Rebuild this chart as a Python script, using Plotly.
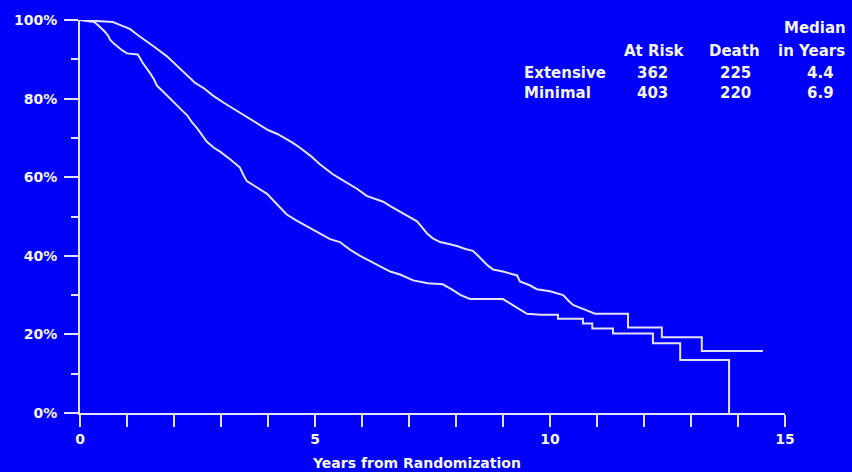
import plotly.graph_objects as go

# ---- data (Kaplan-Meier style curves, % surviving) ----
minimal_years = [0, 0.7, 0.9, 1.06, 1.25, 1.43, 1.6, 1.85, 2.05, 2.28, 2.45, 2.65, 2.83, 3.05,
                 3.26, 3.45, 3.65, 3.83, 4.0, 4.2, 4.35, 4.53, 4.68, 4.9, 5.11, 5.25, 5.38, 5.55,
                 5.74, 5.9, 6.1, 6.3, 6.45, 6.62, 6.81, 7.0, 7.17, 7.28, 7.38, 7.5, 7.66, 7.85,
                 8.02, 8.2, 8.36, 8.47, 8.57, 8.68, 8.79, 9.0, 9.3, 9.36, 9.57, 9.72, 10.0, 10.28,
                 10.4, 10.49, 10.7, 10.96,
                 11.66, 11.66, 12.38, 12.38, 13.23, 13.23, 14.53]
minimal_surv = [100, 99.5, 98.5, 97.75, 96, 94.5, 93, 90.75, 88.5, 85.75, 84, 82.5, 80.75, 79,
                77.5, 76, 74.5, 73.25, 72, 71, 70, 68.75, 67.5, 65.5, 63.25, 62, 60.75, 59.5,
                58.25, 57, 55.25, 54.5, 53.75, 52.5, 51.25, 50, 48.75, 47.25, 45.75, 44.5, 43.5, 43,
                42.5, 41.75, 41.25, 40, 38.75, 37.5, 36.5, 36, 35, 33.5, 32.5, 31.5, 31, 30,
                28.5, 27.5, 26.5, 25.25,
                25.25, 21.75, 21.75, 19.25, 19.25, 15.75, 15.75]

extensive_years = [0, 0.3, 0.38, 0.45, 0.53, 0.6, 0.64, 0.72, 0.79, 0.9, 1.0, 1.23, 1.34, 1.42,
                   1.49, 1.57, 1.64, 1.75, 1.85, 1.95, 2.06, 2.17, 2.28, 2.38, 2.49, 2.6, 2.7,
                   2.85, 2.98, 3.2, 3.4, 3.48, 3.55, 3.75, 3.98, 4.2, 4.4, 4.6, 4.83, 5.11, 5.32,
                   5.53, 5.75, 5.96, 6.2, 6.45, 6.6, 6.81, 7.09, 7.4, 7.72, 7.9, 8.1, 8.3, 9.0,
                   9.2, 9.35, 9.51, 9.8,
                   10.17, 10.17, 10.7, 10.7, 10.9, 10.9, 11.34, 11.34, 12.19, 12.19,
                   12.77, 12.77, 13.81, 13.81]
extensive_surv = [100, 99.5, 98.75, 98, 97, 96, 95, 94, 93.25, 92.25, 91.5, 91.25, 89, 87.75,
                  86.5, 85, 83.25, 82, 80.75, 79.5, 78.25, 77, 75.75, 74, 72.5, 70.75, 69,
                  67.5, 66.5, 64.5, 62.5, 60.5, 59, 57.5, 55.75, 53, 50.5, 49, 47.5, 45.75, 44.25,
                  43.5, 41.5, 40, 38.5, 37, 36, 35.25, 33.75, 33, 32.75, 31.5, 30, 29, 29,
                  27.5, 26.5, 25.25, 25,
                  25, 24, 24, 22.75, 22.75, 21.5, 21.5, 20.25, 20.25, 17.75,
                  17.75, 13.5, 13.5, 0]

x_tick_vals = list(range(0, 16))
x_tick_text = ["0", "", "", "", "", "5", "", "", "", "", "10", "", "", "", "", "15"]
y_tick_vals = [0, 20, 40, 60, 80, 100]
y_tick_text = ["0%", "20%", "40%", "60%", "80%", "100%"]

table_groups = ["Extensive", "Minimal"]
table_at_risk = ["362", "403"]
table_death = ["225", "220"]
table_median = ["4.4", "6.9"]

# ---- style ----
BG = "#0000F8"
LINE = "#E2E2F4"
TXT = "#F4F4EA"
FONT = "DejaVu Sans"

fig = go.Figure()
fig.add_trace(go.Scatter(x=extensive_years, y=extensive_surv, mode="lines",
                         line=dict(color=LINE, width=2), cliponaxis=False,
                         name="Extensive", hoverinfo="skip"))
fig.add_trace(go.Scatter(x=minimal_years, y=minimal_surv, mode="lines",
                         line=dict(color=LINE, width=2), cliponaxis=False,
                         name="Minimal", hoverinfo="skip"))

L, R, T, B = 80, 785, 13, 413
W, H = R - L, B - T


def px(x):
    return (x - L) / W


def py(y):
    return (B - y) / H


ann = []


def add_text(text, x, y, anchor="center", size=15):
    ann.append(dict(text="<b>%s</b>" % text, x=px(x), y=py(y), xref="paper", yref="paper",
                    xanchor=anchor, yanchor="middle", showarrow=False,
                    font=dict(family=FONT, size=size, color=TXT)))


add_text("Median", 815, 21)
add_text("At Risk", 654, 45)
add_text("Death", 734, 45)
add_text("in Years", 811, 45)
row_y = [67, 87]
for i, g in enumerate(table_groups):
    add_text(g, 522, row_y[i], anchor="left")
    add_text(table_at_risk[i], 652, row_y[i])
    add_text(table_death[i], 735, row_y[i])
    add_text(table_median[i], 820, row_y[i])
add_text("Years from Randomization", 416, 464, size=14)

fig.update_layout(
    width=852, height=472,
    margin=dict(l=L, r=852 - R, t=T, b=472 - B),
    paper_bgcolor=BG, plot_bgcolor=BG,
    showlegend=False,
    annotations=ann,
    xaxis=dict(range=[0, 15], showgrid=False, zeroline=False, showline=True,
               linecolor=LINE, linewidth=2, ticks="outside", ticklen=12, tickwidth=2,
               tickcolor=LINE, tickvals=x_tick_vals,
               ticktext=["<b>%s</b>" % t if t else "" for t in x_tick_text],
               tickfont=dict(family=FONT, size=14, color=TXT)),
    yaxis=dict(range=[0, 100], showgrid=False, zeroline=False, showline=True,
               linecolor=LINE, linewidth=2, ticks="outside", ticklen=14, tickwidth=2,
               tickcolor=LINE, tickvals=y_tick_vals,
               ticktext=["<b>%s</b>" % t for t in y_tick_text],
               tickfont=dict(family=FONT, size=14, color=TXT), ticklabelstandoff=4,
               minor=dict(dtick=10, tick0=0, ticks="outside", ticklen=7, tickwidth=2,
                          tickcolor=LINE, showgrid=False)),
)

fig.write_html("out.html")
